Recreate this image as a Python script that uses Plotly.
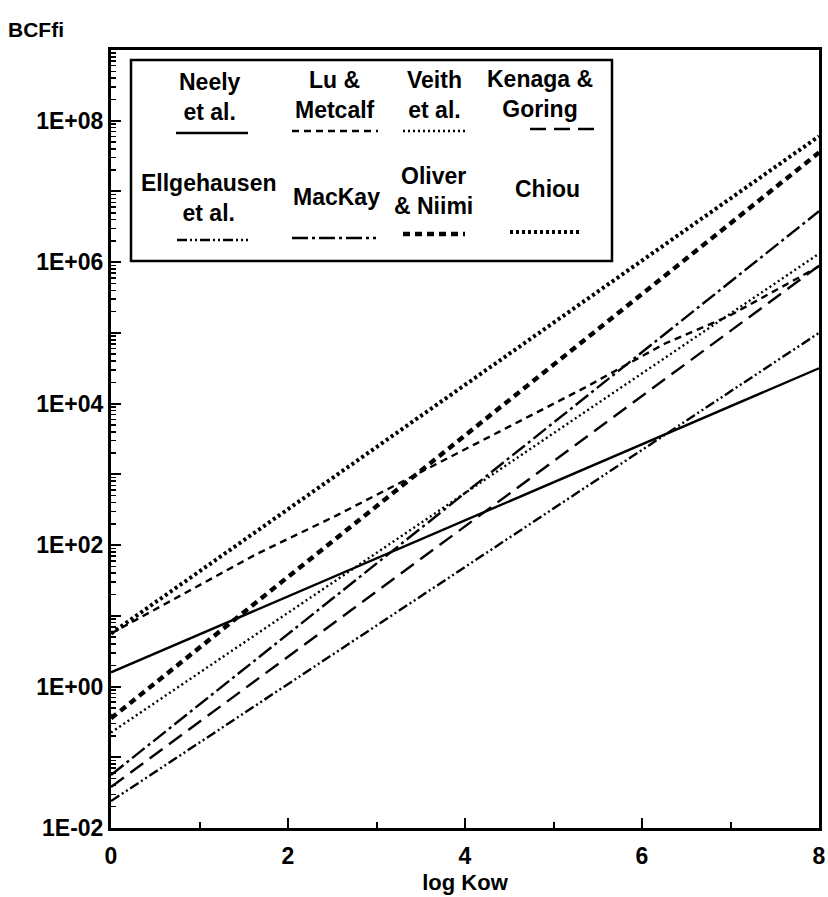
import plotly.graph_objects as go

# ---- data (log10 BCF) ----
log_kow = [0, 8]
neely = [0.2, 4.5]
veith = [-0.65, 6.12]
kenaga = [-1.42, 5.95]
ellgehausen = [-1.62, 5.0]
mackay = [-1.25, 6.72]
oliver = [-0.45, 7.55]
chiou = [0.75, 7.78]
lu_x = [0, 1.64, 2.55, 3.45, 4.35, 5.36, 6.26, 6.97, 8]
lu_y = [0.75, 1.87, 2.42, 3.0, 3.58, 4.23, 4.85, 5.23, 5.94]

x_ticks = [0, 2, 4, 6, 8]
y_tick_labels = ["1E-02", "1E+00", "1E+02", "1E+04", "1E+06", "1E+08"]

FONT = "Liberation Sans, Arial, sans-serif"

# name, x, y(log10), dash, width
series = [
    ("Neely et al.", log_kow, neely, "solid", 2.4),
    ("Lu & Metcalf", lu_x, lu_y, "7px,5px", 2.4),
    ("Veith et al.", log_kow, veith, "2px,3px", 2.4),
    ("Kenaga & Goring", log_kow, kenaga, "16px,8px", 2.4),
    ("Ellgehausen et al.", log_kow, ellgehausen, "10px,3px,2px,3px,2px,3px", 2.4),
    ("MacKay", log_kow, mackay, "16px,4px,3px,4px", 2.4),
    ("Oliver & Niimi", log_kow, oliver, "7px,5px", 4.4),
    ("Chiou", log_kow, chiou, "3px,3px", 4.0),
]

fig = go.Figure()
for name, xs, ys, dash, w in series:
    fig.add_trace(go.Scatter(
        x=xs, y=[10 ** v for v in ys], mode="lines", name=name,
        line=dict(color="black", width=w, dash=dash), showlegend=False,
        hoverinfo="skip"))

W, H = 828, 897
ML, MR, MT, MB = 111, 9, 50, 69
PW, PH = W - ML - MR, H - MT - MB


def px(x):
    return (x - ML) / PW


def py(y):
    return (H - MB - y) / PH


# y ticks
y_major = [10.0 ** d for d in range(-2, 10)]
y_text = []
for d in range(-2, 10):
    lab = "1E%+03d" % d if d % 2 == 0 else ""
    y_text.append(lab if lab in y_tick_labels else "")
y_minor = [k * 10.0 ** d for d in range(-2, 9) for k in range(2, 10)]

fig.update_layout(
    width=W, height=H,
    margin=dict(l=ML, r=MR, t=MT, b=MB, autoexpand=False),
    paper_bgcolor="white", plot_bgcolor="white",
    font=dict(family=FONT, color="black"),
    xaxis=dict(
        range=[0, 8], showgrid=False, zeroline=False, automargin=False,
        showline=True, linewidth=3, linecolor="black", mirror=True,
        ticks="inside", ticklen=10, tickwidth=2, tickcolor="black",
        tickvals=x_ticks, ticktext=[str(v) for v in x_ticks],
        tickfont=dict(size=23, family=FONT, weight="bold"),
        ticklabelstandoff=5, ticklabeloverflow="allow",
        minor=dict(ticks="inside", ticklen=6, tickwidth=2, tickcolor="black",
                   tickvals=[1, 3, 5, 7], showgrid=False),
        title=dict(text="log Kow", font=dict(size=22, family=FONT, weight="bold"),
                   standoff=8),
    ),
    yaxis=dict(
        type="log", range=[-2, 9], showgrid=False, zeroline=False, automargin=False,
        showline=True, linewidth=3, linecolor="black", mirror=True,
        ticks="inside", ticklen=10, tickwidth=2, tickcolor="black",
        tickvals=y_major, ticktext=y_text,
        tickfont=dict(size=23, family=FONT, weight="bold"),
        ticklabelstandoff=0,
        minor=dict(ticks="inside", ticklen=5, tickwidth=1.5, tickcolor="black",
                   tickvals=y_minor, showgrid=False),
    ),
)

# y-axis title (top-left)
annotations = [dict(text="BCFfi", x=px(6), y=py(30), xref="paper", yref="paper",
                    showarrow=False, xanchor="left", yanchor="middle",
                    font=dict(size=21, family=FONT, weight="bold"))]

shapes = [dict(type="rect", xref="paper", yref="paper",
               x0=px(131), x1=px(612), y0=py(261), y1=py(60),
               line=dict(color="black", width=2.5), fillcolor="white", layer="above")]

# legend entries: label, text center x, text center y, sample x0, x1, sample y
legend_layout = [
    ("Neely<br>et al.", 210, 97, 176, 248, 133),
    ("Lu &<br>Metcalf", 335, 95, 292, 378, 131),
    ("Veith<br>et al.", 434, 95, 403, 468, 131),
    ("Kenaga &<br>Goring", 540, 94, 530, 598, 129),
    ("Ellgehausen<br>et al.", 208, 198, 177, 248, 240),
    ("MacKay", 336, 197, 292, 376, 238),
    ("Oliver<br>& Niimi", 433, 191, 403, 465, 234),
    ("Chiou", 547, 189, 510, 582, 232),
]
for (name, xs, ys, dash, w), (lab, tx, ty, sx0, sx1, sy) in zip(series, legend_layout):
    annotations.append(dict(text=lab, x=px(tx), y=py(ty), xref="paper", yref="paper",
                            showarrow=False, xanchor="center", yanchor="middle",
                            align="center",
                            font=dict(size=23, family=FONT, weight="bold")))
    shapes.append(dict(type="line", xref="paper", yref="paper",
                       x0=px(sx0), x1=px(sx1), y0=py(sy), y1=py(sy),
                       line=dict(color="black", width=w, dash=dash), layer="above"))

fig.update_layout(shapes=shapes, annotations=annotations)
fig.write_html(
    "out.html",
    config={"displayModeBar": False, "staticPlot": True},
    post_script="document.body.style.margin='0';document.body.style.overflow='hidden';",
)
